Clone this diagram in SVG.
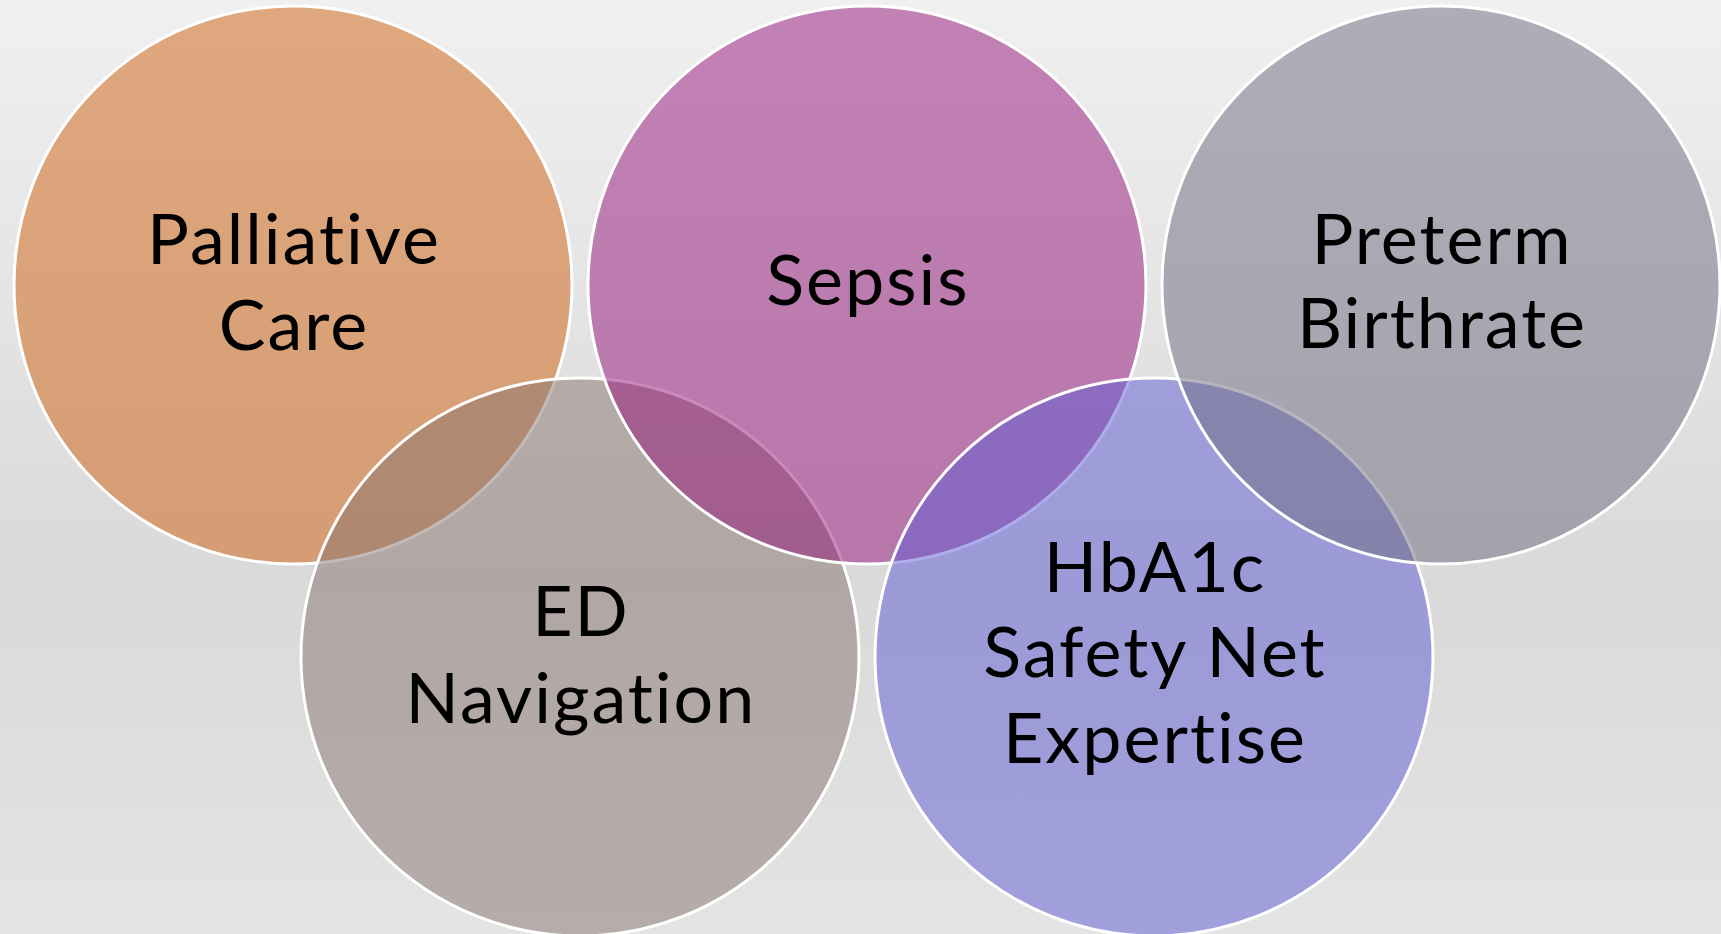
<svg xmlns="http://www.w3.org/2000/svg" width="1721" height="934" viewBox="0 0 1721 934">
  <defs>
    <linearGradient id="bg" x1="0" y1="0" x2="0" y2="1">
      <stop offset="0" stop-color="#f0f0f0"/>
      <stop offset="0.62" stop-color="#d9d9d9"/>
      <stop offset="1" stop-color="#e4e4e4"/>
    </linearGradient>
  </defs>
  <style>
    .ring { stroke: #ffffff; stroke-width: 3; fill-opacity: 0.5; }
    .lbl { font-family: Lato, "Liberation Sans", sans-serif; font-size: 70px; letter-spacing: 2px; font-variant-ligatures: none; font-feature-settings: "liga" 0; fill: #000000; text-anchor: middle; }
  </style>
  <rect x="0" y="0" width="1721" height="934" fill="url(#bg)"/>
  <g id="node-palliative">
    <circle class="ring" cx="293" cy="285" r="279" fill="#cf5f0b"/>
    <text class="lbl" x="294" y="264">Palliative</text>
    <text class="lbl" x="294" y="350">Care</text>
  </g>
  <g id="node-ed">
    <circle class="ring" cx="580" cy="657" r="279" fill="#87736d"/>
    <text class="lbl" x="581" y="636">ED</text>
    <text class="lbl" x="581" y="723">Navigation</text>
  </g>
  <g id="node-sepsis">
    <circle class="ring" cx="867" cy="285" r="279" fill="#931379"/>
    <text class="lbl" x="868" y="305">Sepsis</text>
  </g>
  <g id="node-hba1c">
    <circle class="ring" cx="1154" cy="657" r="279" fill="#5f5bd3"/>
    <text class="lbl" x="1155" y="592">HbA1c</text>
    <text class="lbl" x="1155" y="677">Safety Net</text>
    <text class="lbl" x="1155" y="763">Expertise</text>
  </g>
  <g id="node-preterm">
    <circle class="ring" cx="1441" cy="285" r="279" fill="#6d6b7f"/>
    <text class="lbl" x="1442" y="264">Preterm</text>
    <text class="lbl" x="1442" y="348">Birthrate</text>
  </g>
  <g id="connectors"/>
</svg>
